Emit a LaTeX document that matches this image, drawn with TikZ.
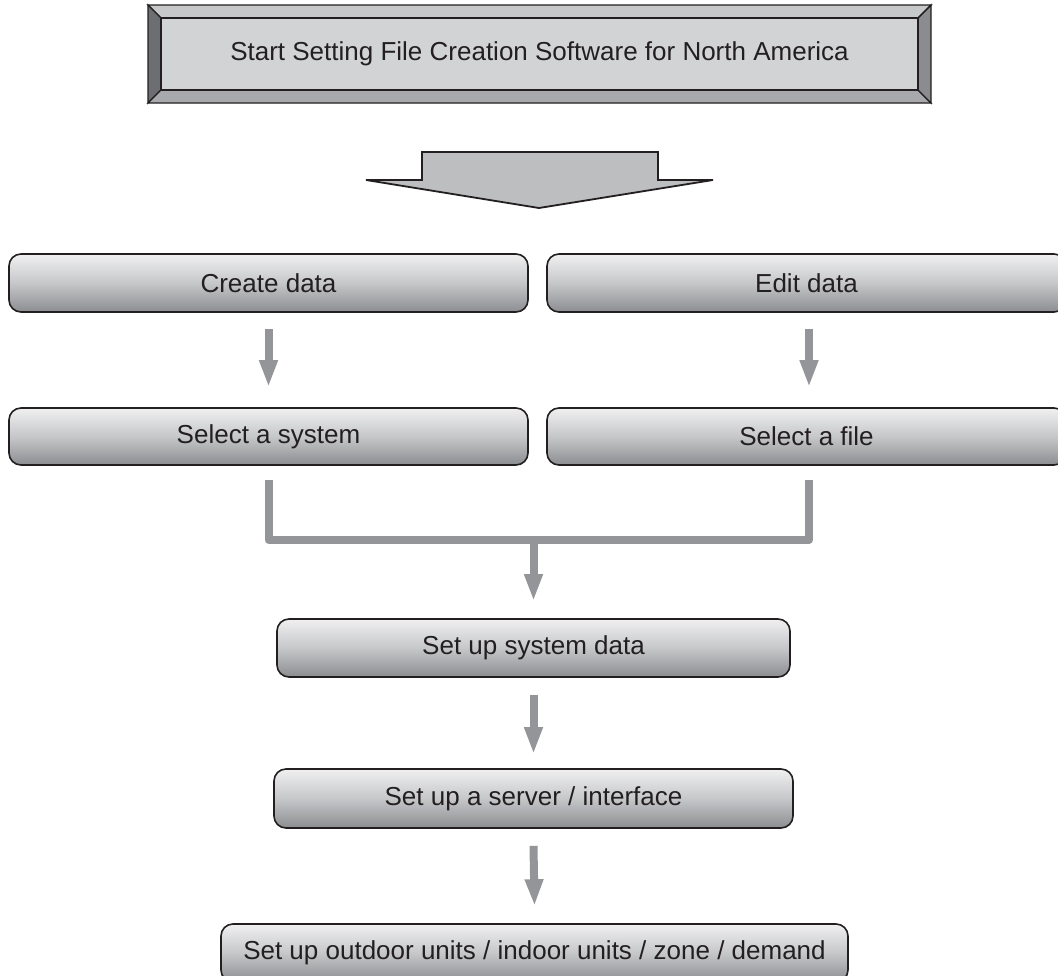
\documentclass[tikz,border=0pt]{standalone}
\usepackage{fontspec}
\setmainfont{Liberation Sans}
\usetikzlibrary{arrows.meta}
\definecolor{arrowgray}{HTML}{939598}
\definecolor{edgecol}{HTML}{231F20}
\definecolor{boxtop}{HTML}{F0F0F1}
\definecolor{boxmid}{HTML}{C6C7C9}
\definecolor{boxbot}{HTML}{8C8D90}
\definecolor{bevtop}{HTML}{C7C8CA}
\definecolor{bevleft}{HTML}{6D6E71}
\definecolor{bevbot}{HTML}{A7A9AC}
\definecolor{bevright}{HTML}{8A8C8F}
\definecolor{bevface}{HTML}{D1D3D4}
\definecolor{bigarrow}{HTML}{BCBEC0}
\begin{document}
\begin{tikzpicture}[x=1pt,y=-1pt,
  box/.style={draw=edgecol, line width=1.6pt, rounded corners=12pt,
    top color=boxtop, bottom color=boxbot, middle color=boxmid,
    font=\fontsize{26}{30}\selectfont, text=edgecol, inner sep=0pt},
  flow/.style={draw=arrowgray, line width=8pt, -{Triangle[width=17pt,length=27pt]}},
  conn/.style={draw=arrowgray, line width=8pt, line join=round},
  bevel/.style={draw=edgecol, line width=1.4pt, line join=miter}]
\useasboundingbox (0,0) rectangle (1058,975);

% top bevelled box
\fill[bevface] (161,18) rectangle (918,90);
\filldraw[bevel, fill=bevtop] (148,5) -- (931,5) -- (918,18) -- (161,18) -- cycle;
\filldraw[bevel, fill=bevleft] (148,5) -- (161,18) -- (161,90) -- (148,103) -- cycle;
\filldraw[bevel, fill=bevbot] (148,103) -- (161,90) -- (918,90) -- (931,103) -- cycle;
\filldraw[bevel, fill=bevright] (931,5) -- (931,103) -- (918,90) -- (918,18) -- cycle;
\draw[bevel] (161,18) rectangle (918,90);
\node[font=\fontsize{26}{30}\selectfont, text=edgecol, inner sep=0pt] (start) at (539.5,54)
  {Start Setting File Creation Software for North America};

% big down arrow
\filldraw[draw=edgecol, line width=1.8pt, fill=bigarrow, line join=miter]
  (422,152) -- (658,152) -- (658,180) -- (713,180) -- (539,208) -- (366,180) -- (422,180) -- cycle;

% boxes
\node[box, minimum width=519pt, minimum height=58pt] (cd) at (268.5,283) {Create data};
\node[box, minimum width=519pt, minimum height=58pt] (ed) at (806.5,283) {Edit data};
\node[box, minimum width=519pt, minimum height=57pt] (sys) at (268.5,436.5) {Select a system};
\node[box, minimum width=519pt, minimum height=57pt] (file) at (806.5,436.5) {Select a file};
\node[box, minimum width=513pt, minimum height=58pt] (ssd) at (533.5,648) {Set up system data};
\node[box, minimum width=519pt, minimum height=59pt] (srv) at (533.5,798.5) {Set up a server / interface};
\node[box, minimum width=627pt, minimum height=58pt] (out) at (534.5,953) {Set up outdoor units / indoor units / zone / demand};

% connectors
\draw[flow] ([yshift=-16pt]cd.south) -- ([yshift=20pt]sys.north);
\draw[flow] ([xshift=2.5pt,yshift=-16pt]ed.south) -- ([xshift=2.5pt,yshift=20pt]file.north);
\coordinate (mj) at (533.5,540);
\draw[conn] ([yshift=-14pt]sys.south) |- (mj) -| ([xshift=2.5pt,yshift=-14pt]file.south);
\draw[flow] (mj) -- ([yshift=17pt]ssd.north);
\draw[flow] ([yshift=-17pt]ssd.south) -- ([yshift=14pt]srv.north);
\draw[flow] ([yshift=-17pt]srv.south) -- ([yshift=17pt]out.north);
\end{tikzpicture}
\end{document}
